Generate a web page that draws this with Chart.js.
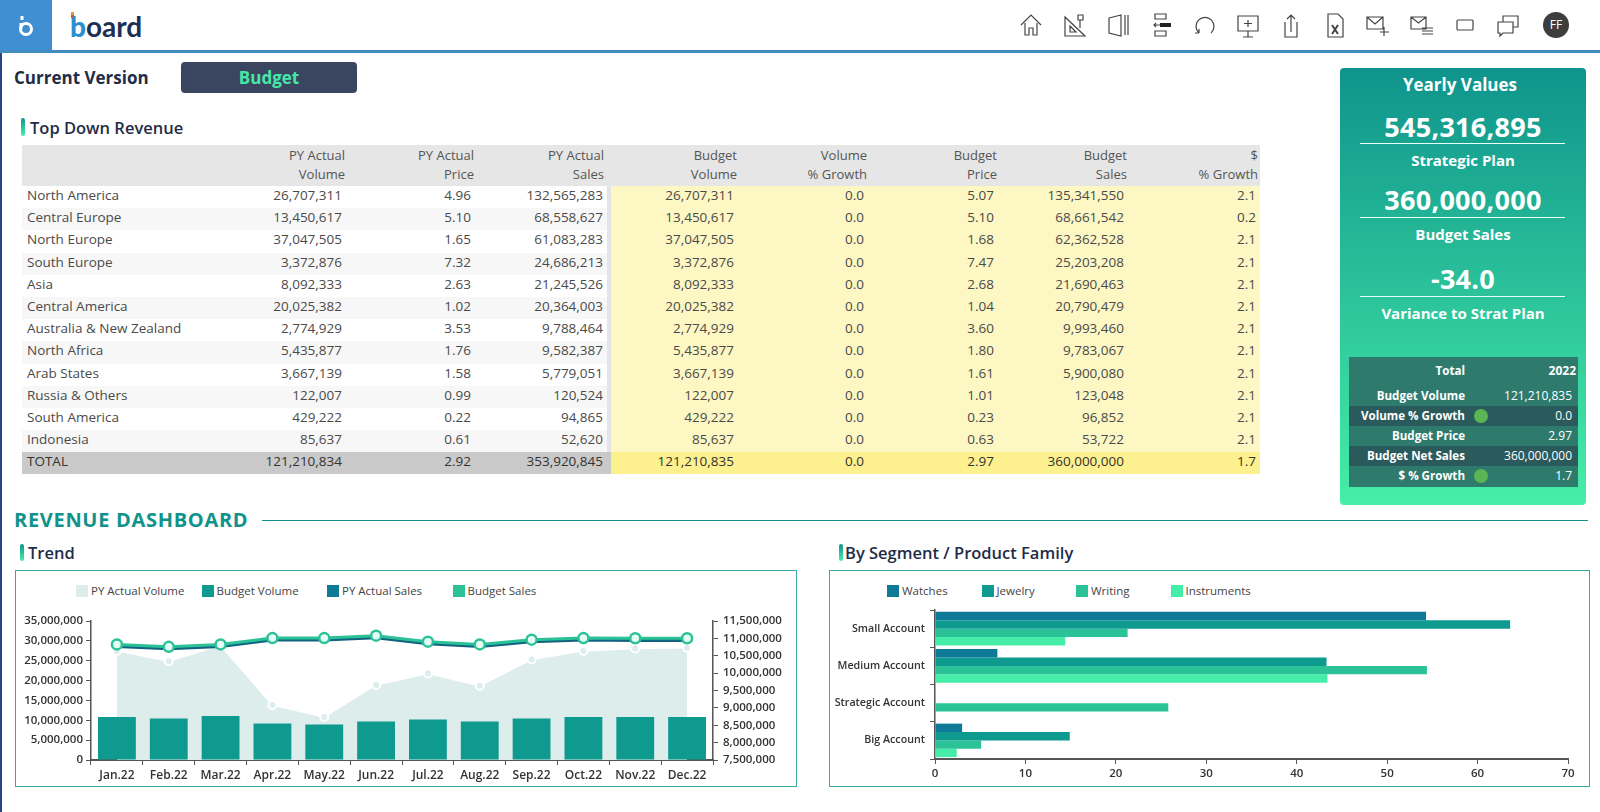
<!DOCTYPE html>
<html lang="en">
<head>
<meta charset="utf-8">
<title>Revenue Dashboard</title>
<script src="https://cdn.jsdelivr.net/npm/chart.js@4"></script>
<style>
    * { box-sizing: border-box; }
    html, body { margin: 0; width: 1600px; height: 812px; overflow: hidden; background: #fff; font-family: "Open Sans", sans-serif; color: #1f2c47; }
    .abs { position: absolute; }
    #edge { left: 0; top: 50px; width: 1.5px; height: 762px; background: #2a4286; }
    #square { left: 0; top: 0; width: 52px; height: 50px; background: #3f90d2; }
    #square svg { position: absolute; left: 18px; top: 15px; width: 16px; height: 22px; fill: none; stroke: #fff; stroke-width: 3; }
    #bar { left: 0; top: 50px; width: 1600px; height: 3px; background: #438cc0; }
    #logo { left: 70px; top: 7px; font: 700 28px/38px Lato; color: #1d2f55; }
    #logo b { color: #2a8fd0; }
    #logomark { left: 71px; top: 12px; width: 3px; height: 6px; background: linear-gradient(#e0a030 50%, #d8503a 50%); }
    #icons svg { position: absolute; top: 12px; width: 26px; height: 26px; fill: none; stroke: #444; stroke-width: 1.2; }
    #avatar { left: 1543px; top: 12px; width: 26px; height: 26px; border-radius: 50%; background: #3d3d3d; color: #fff; font-size: 12px; line-height: 26px; text-align: center; }
    #version { left: 14px; top: 66px; font-weight: 700; font-size: 17px; line-height: 24px; }
    #btn { left: 181px; top: 62px; width: 176px; height: 31px; background: #3a4660; border-radius: 4px; color: #46e8a8; font-weight: 700; font-size: 17px; line-height: 31px; text-align: center; }
    .tick { width: 4px; background: linear-gradient(#0f948c, #45eea6); border-radius: 2px; }
    .h { font-weight: 600; font-size: 16.5px; line-height: 22px; }
    #grid { left: 22px; top: 145px; width: 1238px; border-collapse: collapse; table-layout: fixed; font-size: 13.5px; color: #4a4a4a; }
    #grid td, #grid th { padding: 0; height: 22.2px; line-height: 18px; text-align: right; font-weight: 400; white-space: nowrap; overflow: visible; vertical-align: top; }
    #grid thead th { height: 41px; background: #e6e6e6; padding: 1px 1px 0 0; font-size: 13px; line-height: 19px; color: #555; }
    #grid thead th:nth-child(4) { padding-right: 5px; }
    #grid thead th:nth-child(9) { padding-right: 2px; }
    #grid td { padding-right: 4px; }
    #grid td:first-child { text-align: left; padding-left: 5px; }
    #grid tr.alt td { background: #f7f7f7; }
    #grid td.y, #grid tr.alt td.y { background: #fdf7c3; }
    #grid td.sep { border-right: 4px solid #e4e4e4; }
    #grid tr.total td { background: #c9c9c9; color: #333; }
    #grid tr.total td.sep { border-right-color: #c9c9c9; }
    #grid tr.total td.y { background: #fdf08e; }
    #panel { left: 1340px; top: 68px; width: 246px; height: 437px; border-radius: 4px; background: linear-gradient(#0f948c, #46eea7); color: #fff; text-align: center; }
    #panel .t { position: absolute; left: 0; width: 100%; font-weight: 700; }
    #panel .kpi { font-size: 27px; line-height: 40px; letter-spacing: .3px; }
    #panel .cap { font-size: 15px; line-height: 20px; }
    #panel .rule { position: absolute; left: 20px; width: 205px; height: 1px; background: #e8fff8; }
    #mini { position: absolute; left: 9px; top: 289px; width: 229px; height: 130px; background: #2e7b6e; font-size: 11.6px; font-weight: 700; }
    #mini .r { position: absolute; left: 0; width: 100%; height: 20px; line-height: 20px; }
    #mini .dark { background: #2b5a5c; }
    #mini .l { position: absolute; right: 113px; }
    #mini .v { position: absolute; right: 6px; font-weight: 400; font-size: 12px; }
    #mini .d { position: absolute; left: 125px; top: 3px; width: 14px; height: 14px; border-radius: 50%; background: #5ab552; }
    #dash { left: 14px; top: 506px; color: #10938c; font-weight: 700; font-size: 20px; line-height: 28px; letter-spacing: .7px; }
    #dashline { left: 262px; top: 520px; width: 1326px; height: 1px; background: #10938c; }
    .box { border: 1.5px solid #3aa9a3; top: 570px; height: 217px; }
    .legend { display: flex; top: 583px; font-size: 11.5px; line-height: 16px; color: #444; }
    .legend span { display: flex; align-items: center; }
    .legend i { width: 12px; height: 12px; margin-right: 3px; }
    canvas { position: absolute; }
</style>
</head>
<body>
<div class="abs" id="edge"></div>
<div class="abs" id="square"><svg viewBox="0 0 16 22"><path d="M4 1v4"/><circle cx="8" cy="14" r="5.500"/><path d="M3 8v6"/></svg></div>
<div class="abs" id="bar"></div>
<div class="abs" id="logo"><b>b</b>oard</div>
<div class="abs" id="logomark"></div>
<div id="icons"></div>
<div class="abs" id="avatar">FF</div>

<div class="abs" id="version">Current Version</div>
<div class="abs" id="btn">Budget</div>

<div class="abs tick" style="left:21px;top:118px;height:18px"></div>
<div class="abs h" style="left:30px;top:117px">Top Down Revenue</div>
<table class="abs" id="grid"><colgroup id="cols"></colgroup><thead id="gridHead"></thead><tbody id="gridBody"></tbody></table>

<div class="abs" id="panel">
    <div class="t" style="top:5px;left:-3px;font-size:17px;line-height:24px">Yearly Values</div>
    <div class="t kpi" style="top:39px" id="kpi0"></div>
    <div class="rule" style="top:75px"></div>
    <div class="t cap" style="top:82px">Strategic Plan</div>
    <div class="t kpi" style="top:112px" id="kpi1"></div>
    <div class="rule" style="top:149px"></div>
    <div class="t cap" style="top:156px">Budget Sales</div>
    <div class="t kpi" style="top:191px" id="kpi2"></div>
    <div class="rule" style="top:228px"></div>
    <div class="t cap" style="top:235px">Variance to Strat Plan</div>
    <div id="mini"></div>
</div>

<div class="abs" id="dash">REVENUE DASHBOARD</div>
<div class="abs" id="dashline"></div>

<div class="abs tick" style="left:20px;top:544px;height:17px"></div>
<div class="abs h" style="left:28px;top:542px">Trend</div>
<div class="abs box" style="left:15px;width:782px"></div>
<div class="abs legend" id="trendLegend" style="left:76px"></div>
<canvas id="trendChart" style="left:16px;top:571px;width:780px;height:215px"></canvas>

<div class="abs tick" style="left:839px;top:544px;height:17px"></div>
<div class="abs h" style="left:845px;top:542px">By Segment / Product Family</div>
<div class="abs box" style="left:829px;width:761px"></div>
<div class="abs legend" id="segLegend" style="left:887px"></div>
<canvas id="segChart" style="left:830px;top:571px;width:759px;height:215px"></canvas>

<script>
// ---- table ----
const tableHeaders = [["", ""], ["PY Actual", "Volume"], ["PY Actual", "Price"], ["PY Actual", "Sales"], ["Budget", "Volume"], ["Volume", "% Growth"], ["Budget", "Price"], ["Budget", "Sales"], ["$", "% Growth"]];
const regions = ["North America", "Central Europe", "North Europe", "South Europe", "Asia", "Central America", "Australia & New Zealand", "North Africa", "Arab States", "Russia & Others", "South America", "Indonesia", "TOTAL"];
const pyVolume = ["26,707,311", "13,450,617", "37,047,505", "3,372,876", "8,092,333", "20,025,382", "2,774,929", "5,435,877", "3,667,139", "122,007", "429,222", "85,637", "121,210,834"];
const pyPrice = ["4.96", "5.10", "1.65", "7.32", "2.63", "1.02", "3.53", "1.76", "1.58", "0.99", "0.22", "0.61", "2.92"];
const pySales = ["132,565,283", "68,558,627", "61,083,283", "24,686,213", "21,245,526", "20,364,003", "9,788,464", "9,582,387", "5,779,051", "120,524", "94,865", "52,620", "353,920,845"];
const budVolume = ["26,707,311", "13,450,617", "37,047,505", "3,372,876", "8,092,333", "20,025,382", "2,774,929", "5,435,877", "3,667,139", "122,007", "429,222", "85,637", "121,210,835"];
const volGrowth = ["0.0", "0.0", "0.0", "0.0", "0.0", "0.0", "0.0", "0.0", "0.0", "0.0", "0.0", "0.0", "0.0"];
const budPrice = ["5.07", "5.10", "1.68", "7.47", "2.68", "1.04", "3.60", "1.80", "1.61", "1.01", "0.23", "0.63", "2.97"];
const budSales = ["135,341,550", "68,661,542", "62,362,528", "25,203,208", "21,690,463", "20,790,479", "9,993,460", "9,783,067", "5,900,080", "123,048", "96,852", "53,722", "360,000,000"];
const salesGrowth = ["2.1", "0.2", "2.1", "2.1", "2.1", "2.1", "2.1", "2.1", "2.1", "2.1", "2.1", "2.1", "1.7"];

// ---- yearly values ----
const kpis = ["545,316,895", "360,000,000", "-34.0"];
const miniLabels = ["Budget Volume", "Volume % Growth", "Budget Price", "Budget Net Sales", "$ % Growth"];
const miniValues = ["121,210,835", "0.0", "2.97", "360,000,000", "1.7"];

// ---- trend chart ----
const months = ["Jan.22", "Feb.22", "Mar.22", "Apr.22", "May.22", "Jun.22", "Jul.22", "Aug.22", "Sep.22", "Oct.22", "Nov.22", "Dec.22"];
const pyVolumeTrend = [10640000, 10340000, 10800000, 9080000, 8740000, 9660000, 9990000, 9640000, 10390000, 10640000, 10710000, 10730000];
const budgetVolumeTrend = [10800000, 10470000, 11050000, 9200000, 8960000, 9700000, 10200000, 9700000, 10470000, 10800000, 10800000, 10800000];
const pySalesTrend = [28600000, 28000000, 28600000, 30200000, 30200000, 30800000, 29300000, 28600000, 29800000, 30200000, 30100000, 30100000];
const budgetSalesTrend = [29100000, 28500000, 29100000, 30700000, 30700000, 31300000, 29800000, 29100000, 30300000, 30700000, 30650000, 30650000];

// ---- segment chart ----
const segments = ["Small Account", "Medium Account", "Strategic Account", "Big Account"];
const watches = [54.3, 6.9, 0, 3.0];
const jewelry = [63.6, 43.3, 0, 14.9];
const writing = [21.3, 54.4, 25.8, 5.1];
const instruments = [14.4, 43.4, 0, 2.4];

const C_BLUE = "#0f7a98", C_TEAL = "#0f9a8f", C_GREEN = "#2cc298", C_MINT = "#46eda8", C_AREA = "#dcedeb";
const AXIS = "#555", TXT = "#333";
const tickFont = { family: "Open Sans", size: 11.5, weight: "600" };
const monthFont = { family: "Open Sans", size: 12, weight: "600" };
const segFont = { family: "Open Sans", size: 10.7, weight: "600" };

function buildTable() {
    $("cols").innerHTML = [200, 124, 129, 134, 129, 130, 130, 130, 132].map(w => `<col style="width:${w}px">`).join("");
    $("gridHead").innerHTML = "<tr>" + tableHeaders.map(h => `<th>${h[0]}<br>${h[1]}</th>`).join("") + "</tr>";
    $("gridBody").innerHTML = regions.map((r, i) => {
        const cls = i === regions.length - 1 ? "total" : (i % 2 ? "alt" : "");
        const left = [pyVolume[i], pyPrice[i]].map(v => `<td>${v}</td>`).join("");
        const right = [budVolume[i], volGrowth[i], budPrice[i], budSales[i], salesGrowth[i]].map(v => `<td class="y">${v}</td>`).join("");
        return `<tr class="${cls}"><td>${r.replace("&", "&amp;")}</td>${left}<td class="sep">${pySales[i]}</td>${right}</tr>`;
    }).join("");
}

function buildPanel() {
    kpis.forEach((k, i) => $("kpi" + i).textContent = k);
    let html = '<div class="r" style="top:4px"><span class="l">Total</span><span class="v" style="font-weight:700;right:2px">2022</span></div>';
    miniLabels.forEach((l, i) => {
        const dot = i === 1 || i === 4 ? '<span class="d"></span>' : "";
        html += `<div class="r ${i % 2 ? "dark" : ""}" style="top:${29 + i * 20}px"><span class="l">${l}</span>${dot}<span class="v">${miniValues[i]}</span></div>`;
    });
    $("mini").innerHTML = html;
}

function buildLegend(id, names, colors, width) {
    $(id).innerHTML = names.map((n, i) => `<span style="width:${width}px"><i style="background:${colors[i]}"></i>${n}</span>`).join("");
}

function buildIcons() {
    const icons = [
        [1018, '<path d="M3 13 13 3l10 10M7 11v12h4v-7h4v7h4V11"/>'],
        [1061, '<path d="M4 5v19h20zM9 14v6h6zM17 8V3h5v5zM19 8v8"/>'],
        [1105, '<path d="M4 6l12-3v21L4 21zM20 3v20M23 3v20"/>'],
        [1149, '<path d="M6 2h11v5H6zM6 19h11v5H6z"/><path d="M11 13h11" stroke-width="4" stroke="#222"/><path d="M5 13h6M7 11l-2 2 2 2"/>'],
        [1192, '<path d="M7 21A9 9 0 1 1 19 21M7 21v-4M7 21H3"/>'],
        [1235, '<path d="M3 4h20v15H3zM13 19v6M8 25h10M13 8v7M9 11.5h8"/>'],
        [1278, '<path d="M7 10v15h12V10M13 20V3M9 7l4-4 4 4"/>'],
        [1322, '<path d="M6 2h10l5 5v18H6z"/><path d="M10 13l6 9M16 13l-6 9" stroke-width="2"/>'],
        [1364, '<path d="M3 5h16v12H3zM3 5l8 7 8-7M20 15v9M16 20h9"/>'],
        [1408, '<path d="M3 5h15v12H3zM3 5l7.500 6 7.500-6M14 16h11M14 19h11M14 22h11"/>'],
        [1452, '<rect x="5" y="8" width="16" height="10" rx="1"/>'],
        [1495, '<path d="M3 10h15v11H8l-3 3v-3H3zM8 10V4h15v11h-5"/>']
    ];
    $("icons").innerHTML = icons.map(ic => `<svg viewBox="0 0 26 26" style="left:${ic[0]}px">${ic[1]}</svg>`).join("");
}

function $(id) { return document.getElementById(id); }

function makeTrend() {
    new Chart($("trendChart"), {
        type: "bar",
        data: {
            labels: months,
            datasets: [
                { type: "line", label: "PY Actual Volume", data: pyVolumeTrend, yAxisID: "y2", order: 4, fill: "origin",
                  backgroundColor: C_AREA, borderColor: "#fff", borderWidth: 1.5, tension: 0,
                  pointRadius: 4, pointBackgroundColor: C_AREA, pointBorderColor: "#fff", pointBorderWidth: 2 },
                { label: "Budget Volume", data: budgetVolumeTrend, yAxisID: "y", order: 3, backgroundColor: C_TEAL,
                  barPercentage: 0.73, categoryPercentage: 1 },
                { type: "line", label: "PY Actual Sales", data: pySalesTrend, yAxisID: "y", order: 2, fill: false,
                  borderColor: "#11647f", borderWidth: 3, tension: 0, pointRadius: 0 },
                { type: "line", label: "Budget Sales", data: budgetSalesTrend, yAxisID: "y", order: 1, fill: false,
                  borderColor: C_GREEN, borderWidth: 3, tension: 0,
                  pointRadius: 5, pointBackgroundColor: "#e6fbf4", pointBorderColor: C_GREEN, pointBorderWidth: 2.5 }
            ]
        },
        options: {
            responsive: false, animation: false,
            layout: { padding: { top: 50, left: 0, right: 0, bottom: 0 } },
            plugins: { legend: { display: false }, tooltip: { enabled: false } },
            scales: {
                x: {
                    offset: true,
                    grid: { offset: true, drawOnChartArea: false, tickLength: 5, color: AXIS },
                    border: { color: AXIS, width: 2 },
                    ticks: { color: TXT, font: monthFont, padding: 3, maxRotation: 0, autoSkip: false },
                    afterFit: s => { s.height = 26; }
                },
                y: {
                    position: "left", min: 0, max: 35000000,
                    grid: { drawOnChartArea: false, tickLength: 5, color: AXIS },
                    border: { color: AXIS, width: 1.5 },
                    ticks: { stepSize: 5000000, color: TXT, font: tickFont, padding: 3, callback: v => v.toLocaleString("en-US") },
                    afterFit: s => { s.width = 75; }
                },
                y2: {
                    position: "right", min: 7500000, max: 11500000,
                    grid: { drawOnChartArea: false, tickLength: 5, color: AXIS },
                    border: { color: AXIS, width: 1.5 },
                    ticks: { stepSize: 500000, color: TXT, font: tickFont, padding: 5, callback: v => v.toLocaleString("en-US") },
                    afterFit: s => { s.width = 83; }
                }
            }
        }
    });
}

function makeSegment() {
    new Chart($("segChart"), {
        type: "bar",
        data: {
            labels: segments,
            datasets: [
                { label: "Watches", data: watches, backgroundColor: C_BLUE },
                { label: "Jewelry", data: jewelry, backgroundColor: C_TEAL },
                { label: "Writing", data: writing, backgroundColor: C_GREEN },
                { label: "Instruments", data: instruments, backgroundColor: C_MINT }
            ]
        },
        options: {
            indexAxis: "y", responsive: false, animation: false,
            datasets: { bar: { barPercentage: 1, categoryPercentage: 0.9 } },
            layout: { padding: { top: 39, left: 0, right: 21, bottom: 0 } },
            plugins: { legend: { display: false }, tooltip: { enabled: false } },
            scales: {
                x: {
                    min: 0, max: 70,
                    grid: { drawOnChartArea: false, tickLength: 5, color: AXIS },
                    border: { color: AXIS, width: 2 },
                    ticks: { stepSize: 10, color: TXT, font: tickFont, padding: 3, maxRotation: 0 },
                    afterFit: s => { s.height = 27; }
                },
                y: {
                    offset: true,
                    grid: { offset: true, drawOnChartArea: false, tickLength: 5, color: AXIS },
                    border: { color: AXIS, width: 1.5 },
                    ticks: { color: TXT, font: segFont, padding: 5, autoSkip: false },
                    afterFit: s => { s.width = 105; }
                }
            }
        }
    });
}

buildTable();
buildPanel();
buildIcons();
buildLegend("trendLegend", ["PY Actual Volume", "Budget Volume", "PY Actual Sales", "Budget Sales"], [C_AREA, C_TEAL, C_BLUE, C_GREEN], 125.5);
buildLegend("segLegend", ["Watches", "Jewelry", "Writing", "Instruments"], [C_BLUE, C_TEAL, C_GREEN, C_MINT], 94.5);
makeTrend();
makeSegment();
</script>
</body>
</html>
